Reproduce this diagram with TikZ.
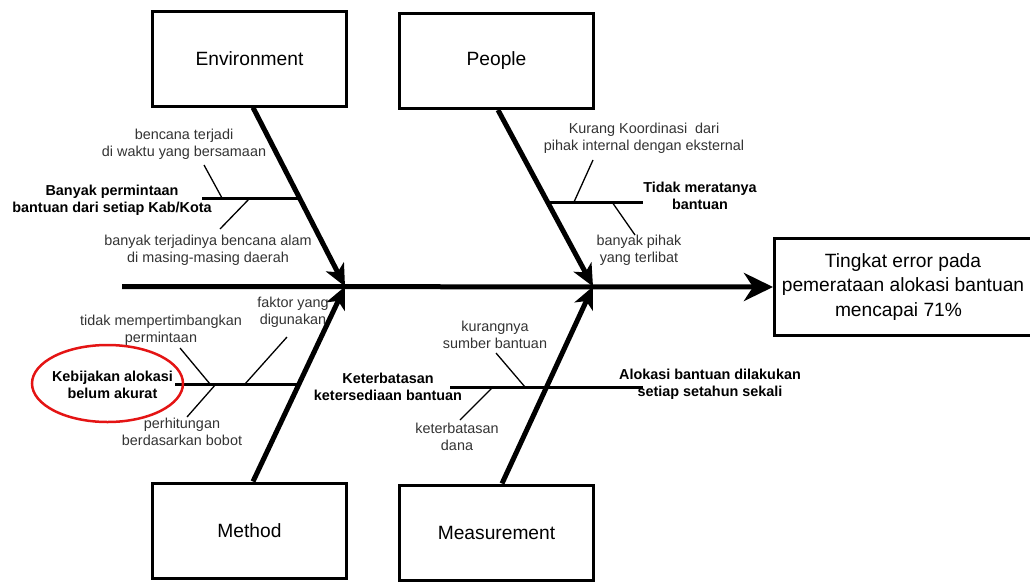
\documentclass[tikz,border=0pt]{standalone}
\usepackage{fontspec}
\setmainfont{Liberation Sans}
\usetikzlibrary{arrows.meta,shapes.geometric}
\definecolor{txtgray}{HTML}{333333}
\definecolor{ovalred}{HTML}{E41414}
\tikzset{
  catbox/.style={draw, line width=3pt, fill=white, minimum width=194pt, minimum height=95pt, inner sep=0pt, font=\fontsize{19.2}{23}\selectfont},
  resbox/.style={draw, line width=3pt, fill=white, minimum width=257pt, minimum height=97pt, inner sep=0pt, align=center, font=\fontsize{19.2}{24.5}\selectfont},
  spine/.style={line width=5pt, -{Stealth[length=29pt,width=28pt,inset=9pt]}},
  bone/.style={line width=5pt, -{Stealth[length=22pt,width=20pt,inset=6pt]}},
  sub/.style={line width=3pt},
  twig/.style={line width=1.3pt},
  note/.style={align=center, inner sep=0pt, text=txtgray, font=\fontsize{14.4}{17.3}\selectfont},
  cause/.style={align=center, inner sep=0pt, font=\bfseries\fontsize{14.4}{17.3}\selectfont},
  oval/.style={ellipse, draw=ovalred, line width=2.5pt, minimum width=151pt, minimum height=77pt, inner sep=0pt},
}
\begin{document}
\begin{tikzpicture}[x=1pt,y=-1pt]
\useasboundingbox (0,0) rectangle (1030,581);
\clip (0,0) rectangle (1030,581);

% category boxes
\node[catbox] (env) at (249.5,58.5) {Environment};
\node[catbox] (peo) at (496.5,61) {People};
\node[catbox] (met) at (249.5,530.5) {Method};
\node[catbox] (mea) at (496.5,532.5) {Measurement};
\node[resbox] (res) at (903,287) {Tingkat error pada\\pemerataan alokasi bantuan\\mencapai 71\%\hspace*{9pt}};

% spine and joints
\coordinate (tail) at (122,286.5);
\coordinate (j1) at (345,286.5);
\coordinate (j2) at (593,286.5);
\draw[spine] (tail) -- (res.west);

% bones
\draw[bone] ([xshift=3.5pt]env.south) -- (j1);
\draw[bone] ([xshift=1.5pt]peo.north |- peo.south) -- (j2);
\draw[bone] ([xshift=3.5pt]met.north) -- (j1);
\draw[bone] ([xshift=5.5pt]mea.north) -- (j2);

% sub-branches
\coordinate (eh1) at (202,198);   \coordinate (eh2) at (299.5,198);
\coordinate (ph1) at (547.5,202); \coordinate (ph2) at (643,202);
\coordinate (mh1) at (175,384);   \coordinate (mh2) at (299,384);
\coordinate (sh1) at (450,387);   \coordinate (sh2) at (643,387);
\draw[sub] (eh1) -- (eh2);
\draw[sub] (ph1) -- (ph2);
\draw[sub] (mh1) -- (mh2);
\draw[sub] (sh1) -- (sh2);

% twigs
\coordinate (ea1) at (204,165); \coordinate (ea2) at (222,198);
\coordinate (eb1) at (250,198); \coordinate (eb2) at (220,229);
\coordinate (pa1) at (593,160); \coordinate (pa2) at (574,202);
\coordinate (pb1) at (612,202); \coordinate (pb2) at (635,235);
\coordinate (ma1) at (180,348); \coordinate (ma2) at (210,384);
\coordinate (mb1) at (287,337); \coordinate (mb2) at (245,384);
\coordinate (mc1) at (216,384); \coordinate (mc2) at (187,417);
\coordinate (sa1) at (496,353); \coordinate (sa2) at (525,387);
\coordinate (sb1) at (493,387); \coordinate (sb2) at (460,420);
\draw[twig] (ea1) -- (ea2);
\draw[twig] (eb1) -- (eb2);
\draw[twig] (pa1) -- (pa2);
\draw[twig] (pb1) -- (pb2);
\draw[twig] (ma1) -- (ma2);
\draw[twig] (mb1) -- (mb2);
\draw[twig] (mc1) -- (mc2);
\draw[twig] (sa1) -- (sa2);
\draw[twig] (sb1) -- (sb2);

% texts
\node[note] (ten1) at (184,144) {bencana terjadi\\di waktu yang bersamaan};
\node[cause] (ben) at (112,200.5) {Banyak permintaan\\bantuan dari setiap Kab/Kota};
\node[note] (ten2) at (208,250) {banyak terjadinya bencana alam\\di masing-masing daerah};

\node[note] (tpe1) at (644,138) {Kurang Koordinasi\ \ dari\\pihak internal dengan eksternal};
\node[cause] (bpe) at (700,196) {Tidak meratanya\\bantuan};
\node[note] (tpe2) at (639,250.5) {banyak pihak\\yang terlibat};

\node[note] (tme1) at (161,330.5) {tidak mempertimbangkan\\permintaan};
\node[note] (tme2) at (293,312.5) {faktor yang\\digunakan};
\node[cause] (bme) at (112.5,385) {Kebijakan alokasi\\belum akurat};
\node[oval] (ring) at (107.5,383.5) {};
\node[note] (tme3) at (182,431.5) {perhitungan\\berdasarkan bobot};

\node[note] (tms1) at (495,334.5) {kurangnya\\sumber bantuan};
\node[cause] (bms1) at (388,386.5) {Keterbatasan\\ketersediaan bantuan};
\node[cause] (bms2) at (710,384.5) {Alokasi bantuan dilakukan\\setiap setahun sekali};
\node[note] (tms2) at (457,437) {keterbatasan\\dana};
\end{tikzpicture}
\end{document}
